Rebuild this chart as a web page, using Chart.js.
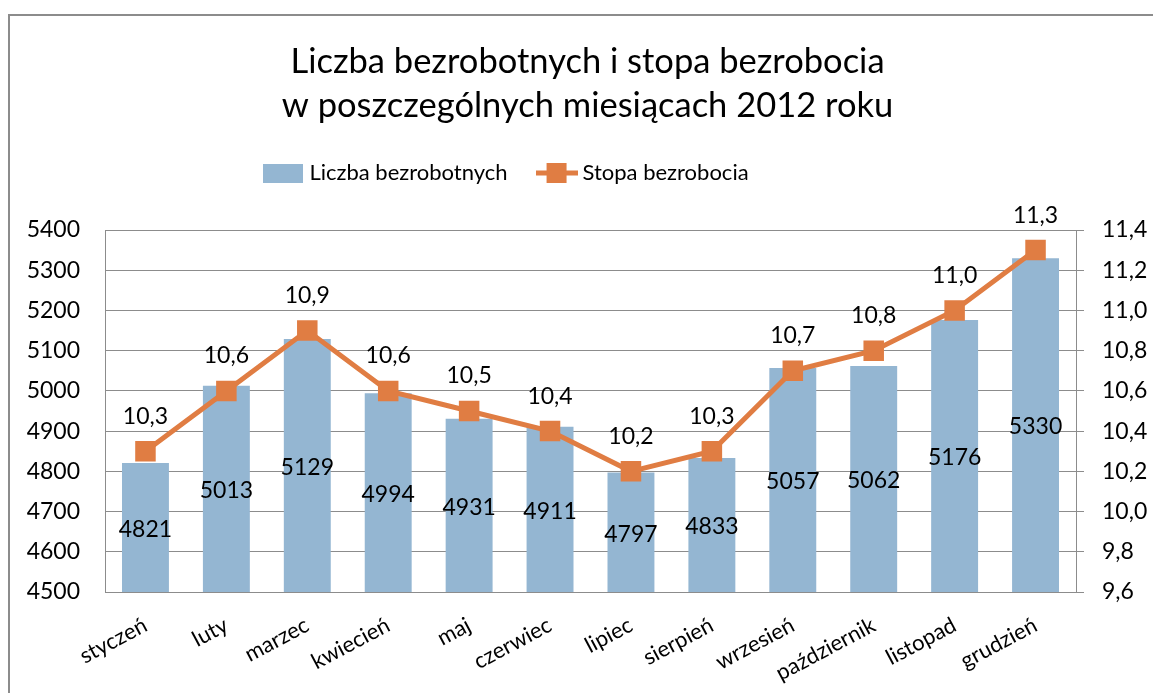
<!DOCTYPE html>
<html>
<head>
<meta charset="utf-8">
<script src="https://cdn.jsdelivr.net/npm/chart.js@4.4.0/dist/chart.umd.min.js"></script>
<style>
  html, body { margin: 0; padding: 0; background: #fff; overflow: hidden; }
  #frame { position: absolute; left: 8px; top: 14px; width: 1300px; height: 900px; border: 2px solid #8c8c8c; box-sizing: border-box; }
  #wrap { position: absolute; left: 0; top: 0; width: 1153px; height: 693px; }
</style>
</head>
<body>
<div id="frame"></div>
<div id="wrap"><canvas id="chart"></canvas></div>
<script>
const months = ["styczeń", "luty", "marzec", "kwiecień", "maj", "czerwiec", "lipiec", "sierpień", "wrzesień", "październik", "listopad", "grudzień"];
const unemployed = [4821, 5013, 5129, 4994, 4931, 4911, 4797, 4833, 5057, 5062, 5176, 5330];
const rate = [10.3, 10.6, 10.9, 10.6, 10.5, 10.4, 10.2, 10.3, 10.7, 10.8, 11.0, 11.3];
const titleLines = ["Liczba bezrobotnych i stopa bezrobocia", "w poszczególnych miesiącach 2012 roku"];
const seriesNames = ["Liczba bezrobotnych", "Stopa bezrobocia"];

const barColor = "#94b6d2";
const lineColor = "#e07d43";
const gridColor = "#8c8c8c";
const fontFamily = "Lato, 'Noto Sans', sans-serif";

Chart.defaults.font.family = fontFamily;
Chart.defaults.color = "#000";

const fmt = v => v.toFixed(1).replace(".", ",");

// legend swatches
function makeSwatch(kind) {
  const c = document.createElement("canvas");
  const g = c.getContext("2d");
  if (kind === "bar") {
    c.width = 40; c.height = 19;
    g.fillStyle = barColor;
    g.fillRect(0, 0, 40, 19);
  } else {
    c.width = 42; c.height = 20;
    g.strokeStyle = lineColor;
    g.lineWidth = 5;
    g.beginPath(); g.moveTo(0, 10); g.lineTo(42, 10); g.stroke();
    g.fillStyle = lineColor;
    g.fillRect(11, 0, 20, 20);
  }
  return c;
}
const swatches = [makeSwatch("bar"), makeSwatch("line")];

// title and legend are not centred on the canvas in the original
const nudgeBoxes = {
  id: "nudgeBoxes",
  afterLayout(chart) {
    if (chart.titleBlock) { chart.titleBlock.left += 11; chart.titleBlock.right += 11; }
    if (chart.legend) { chart.legend.left -= 68; chart.legend.right -= 68; }
  }
};

// value labels on bars and points
const valueLabels = {
  id: "valueLabels",
  afterDatasetsDraw(chart) {
    const ctx = chart.ctx;
    const yScale = chart.scales.y;
    const base = yScale.getPixelForValue(yScale.min);
    ctx.save();
    ctx.font = "23px " + fontFamily;
    ctx.fillStyle = "#000";
    ctx.textAlign = "center";
    ctx.textBaseline = "middle";
    chart.getDatasetMeta(0).data.forEach((bar, i) => {
      const top = yScale.getPixelForValue(unemployed[i]);
      ctx.fillText(String(unemployed[i]), bar.x, (top + base) / 2 + 2);
    });
    chart.getDatasetMeta(1).data.forEach((pt, i) => {
      ctx.fillText(fmt(rate[i]), pt.x, pt.y - 35);
    });
    ctx.restore();
  }
};

new Chart(document.getElementById("chart"), {
  type: "bar",
  data: {
    labels: months,
    datasets: [
      {
        type: "bar",
        label: seriesNames[0],
        data: unemployed,
        backgroundColor: barColor,
        xAxisID: "x",
        yAxisID: "y",
        order: 1,
        categoryPercentage: 1,
        barPercentage: 0.58
      },
      {
        type: "line",
        label: seriesNames[1],
        data: rate,
        borderColor: lineColor,
        backgroundColor: lineColor,
        borderWidth: 5,
        pointStyle: "rect",
        pointRadius: 14.5,
        pointBorderWidth: 0,
        pointBackgroundColor: lineColor,
        xAxisID: "x",
        yAxisID: "y1",
        order: 0
      }
    ]
  },
  options: {
    responsive: true,
    maintainAspectRatio: false,
    animation: false,
    layout: { padding: 0 },
    plugins: {
      tooltip: { enabled: false },
      title: {
        display: true,
        text: titleLines,
        color: "#000",
        font: { size: 34.5, weight: "normal", lineHeight: 44 / 34.5 },
        padding: { top: 40, bottom: 0 }
      },
      legend: {
        display: true,
        position: "top",
        labels: {
          usePointStyle: true,
          pointStyleWidth: 30,
          padding: 34,
          color: "#000",
          font: { size: 22 },
          sort: (a, b) => a.datasetIndex - b.datasetIndex,
          generateLabels(chart) {
            const items = Chart.defaults.plugins.legend.labels.generateLabels(chart);
            items.forEach(it => { it.pointStyle = swatches[it.datasetIndex]; it.lineWidth = 0; });
            return items;
          }
        }
      }
    },
    scales: {
      x: {
        grid: { display: false, drawTicks: false },
        border: { display: true, color: gridColor, width: 1 },
        ticks: { minRotation: 28, maxRotation: 28, padding: 20, font: { size: 22 }, color: "#000", autoSkip: false },
        afterFit(s) { s.height = 101; }
      },
      gap: {
        type: "linear",
        position: "top",
        display: true,
        grid: { display: false },
        border: { display: false },
        ticks: { display: false },
        afterFit(s) { s.height = 36; }
      },
      y: {
        position: "left",
        min: 4500,
        max: 5400,
        ticks: { stepSize: 100, padding: 25, font: { size: 23 }, color: "#000", callback: v => String(v) },
        grid: { color: gridColor, drawTicks: false, lineWidth: 1 },
        border: { display: true, color: gridColor, width: 1 },
        afterFit(s) { s.width = 105; }
      },
      y1: {
        position: "right",
        min: 9.6,
        max: 11.4,
        ticks: { stepSize: 0.2, padding: 18, font: { size: 23 }, color: "#000", callback: v => fmt(v) },
        grid: { drawOnChartArea: false, drawTicks: true, tickLength: 8, color: gridColor },
        border: { display: true, color: gridColor, width: 1 },
        afterFit(s) { s.width = 77; }
      }
    }
  },
  plugins: [nudgeBoxes, valueLabels]
});
</script>
</body>
</html>
